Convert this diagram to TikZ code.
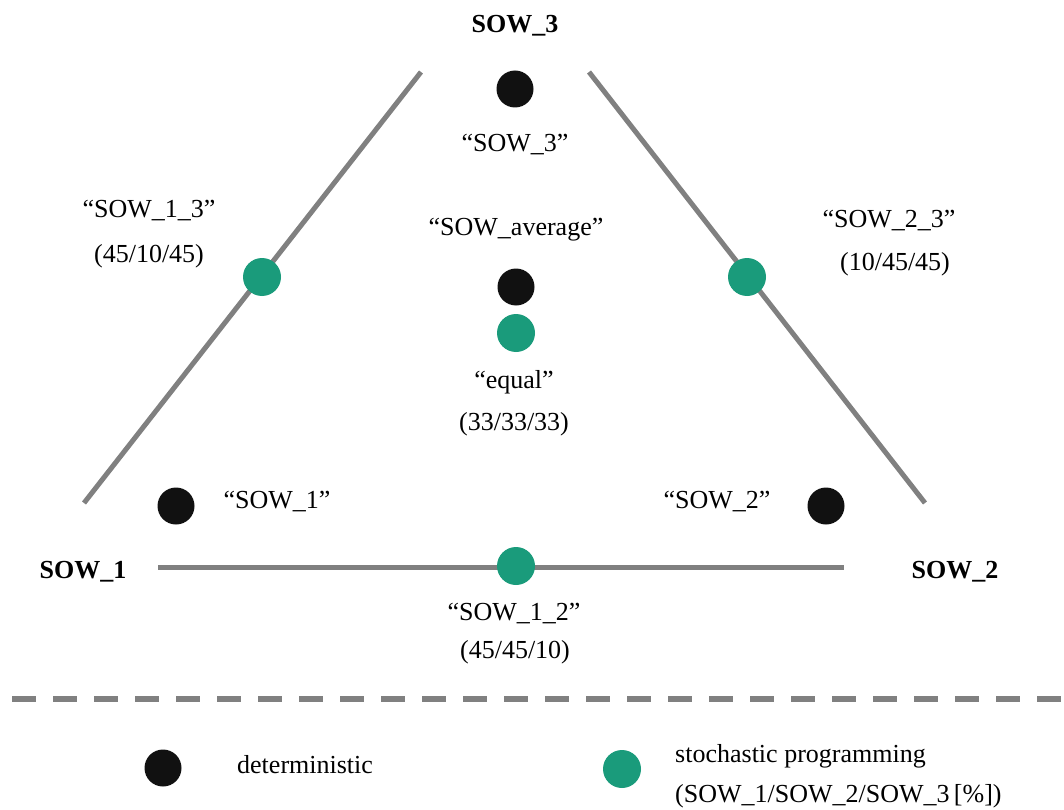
\documentclass[tikz,border=0pt]{standalone}
\usepackage{fontspec}
\setmainfont{Liberation Serif}
\definecolor{edgegray}{RGB}{128,128,128}
\definecolor{stochgreen}{RGB}{26,155,123}
\definecolor{detblack}{RGB}{17,17,17}
\tikzset{
  lbl/.style={inner sep=0pt, anchor=base, font=\fontsize{26}{30}\selectfont},
  lbll/.style={lbl, anchor=base west},
  corner/.style={lbl, font=\fontsize{26}{30}\selectfont\bfseries},
  detdot/.style={circle, fill=detblack, inner sep=0pt, minimum size=37pt},
  stochdot/.style={circle, fill=stochgreen, inner sep=0pt, minimum size=38pt},
  edgeline/.style={draw=edgegray, line width=5pt},
  sepline/.style={draw=edgegray, line width=6pt, dash pattern=on 24pt off 17pt}
}
\begin{document}
\begin{tikzpicture}[x=1pt,y=-1pt]
\useasboundingbox (0,0) rectangle (1064,810);
% triangle edge end points
\coordinate (l1) at (84,503);
\coordinate (l2) at (421,72);
\coordinate (r1) at (589,72);
\coordinate (r2) at (925,503);
\coordinate (b1) at (158,567);
\coordinate (b2) at (844,567);
\coordinate (d1) at (12,699);
\coordinate (d2) at (1064,699);
\draw[edgeline] (l1) -- (l2);
\draw[edgeline] (r1) -- (r2);
\draw[edgeline] (b1) -- (b2);
\draw[sepline] (d1) -- (d2);
% corner labels
\node[corner] (c3) at (515,33) {SOW\_3};
\node[corner] (c1) at (83,578) {SOW\_1};
\node[corner] (c2) at (955,578) {SOW\_2};
% deterministic points
\node[detdot] (p3) at (515,89) {};
\node[lbl] (t3) at (515,152) {``SOW\_3''};
\node[detdot] (pa) at (516,287) {};
\node[lbl] (ta) at (516,235) {``SOW\_average''};
\node[detdot] (p1) at (176,506) {};
\node[lbl] (t1) at (277,508) {``SOW\_1''};
\node[detdot] (p2) at (826,506) {};
\node[lbl] (t2) at (717,508) {``SOW\_2''};
% stochastic points
\node[stochdot] (s13) at (262,277) {};
\node[lbl] (ts13) at (149,218) {``SOW\_1\_3''};
\node[lbl] (vs13) at (149,262) {(45/10/45)};
\node[stochdot] (s23) at (747,277) {};
\node[lbl] (ts23) at (889,228) {``SOW\_2\_3''};
\node[lbl] (vs23) at (895,270) {(10/45/45)};
\node[stochdot] (se) at (516,333) {};
\node[lbl] (tse) at (514,388) {``equal''};
\node[lbl] (vse) at (514,430) {(33/33/33)};
\node[stochdot] (s12) at (516,566) {};
\node[lbl] (ts12) at (514,620) {``SOW\_1\_2''};
\node[lbl] (vs12) at (515,658) {(45/45/10)};
% legend
\node[detdot] (ld) at (163,768) {};
\node[lbll] (ldt) at (237,773) {deterministic};
\node[stochdot] (ls) at (622,769) {};
\node[lbll] (lst1) at (675,762) {stochastic programming};
\node[lbll] (lst2) at (675,802) {(SOW\_1/SOW\_2/SOW\_3\,[\%])};
\end{tikzpicture}
\end{document}
